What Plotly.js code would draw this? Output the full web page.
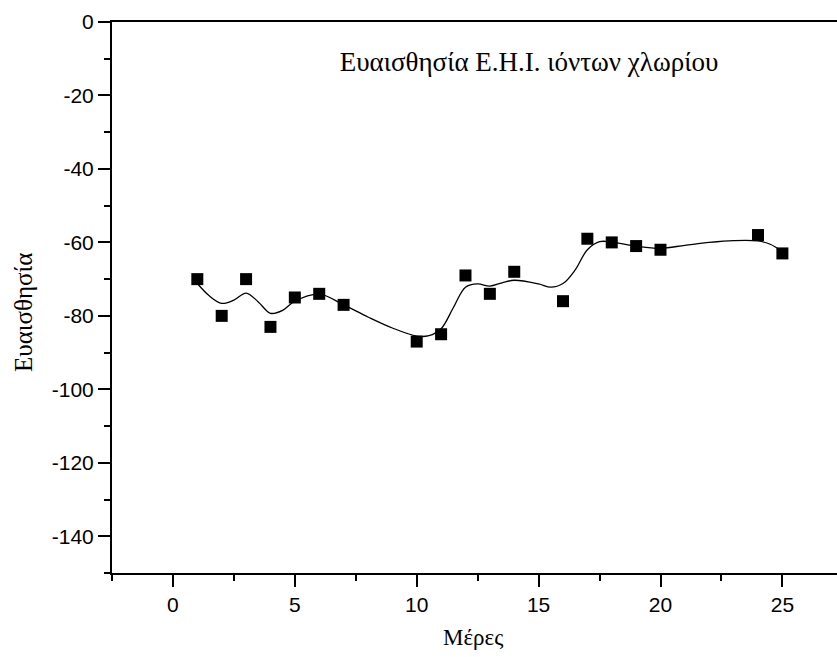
<!DOCTYPE html>
<html>
<head>
<meta charset="utf-8">
<script src="https://cdn.plot.ly/plotly-3.0.1.min.js"></script>
<style>html,body{margin:0;padding:0;background:#fff;}#chart{width:837px;height:657px;}</style>
</head>
<body>
<div id="chart"></div>
<script>
// Measured points
const days = [1, 2, 3, 4, 5, 6, 7, 10, 11, 12, 13, 14, 16, 17, 18, 19, 20, 24, 25];
const sensitivity = [-70, -80, -70, -83, -75, -74, -77, -87, -85, -69, -74, -68, -76, -59, -60, -61, -62, -58, -63];

// Smoothed curve, values
const curveX = [1, 1.5, 2, 2.5, 3, 3.5, 4, 4.5, 5, 6, 7, 8, 9, 10, 10.5, 11, 11.5, 12, 12.5, 13, 13.5, 14, 15, 15.5, 16, 16.5, 17, 17.5, 18, 19, 20, 21, 22, 23, 24, 24.5, 25];
const curveY = [-71.2, -74.6, -76.6, -75.7, -73.8, -76.2, -79.3, -78.5, -76.0, -74.1, -77.0, -80.3, -83.3, -85.5, -85.4, -83.5, -77.8, -72.2, -71.3, -71.9, -71.0, -70.3, -71.3, -72.2, -71.2, -67.5, -62.0, -59.8, -59.9, -61.0, -61.6, -60.8, -60.0, -59.5, -59.6, -60.5, -62.5];

const xTickVals = [0, 5, 10, 15, 20, 25];
const yTickVals = [-140, -120, -100, -80, -60, -40, -20, 0];

const titleText = "Ευαισθησία Ε.Η.Ι. ιόντων χλωρίου";
const xTitle = "Μέρες";
const yTitle = "Ευαισθησία";

const serif = "Liberation Serif, Times New Roman, serif";
const sans = "Liberation Sans, Arial, sans-serif";

const traces = [
  {
    x: curveX, y: curveY, type: 'scatter', mode: 'lines',
    line: {color: '#000', width: 1.3, shape: 'spline', smoothing: 1},
    hoverinfo: 'skip', showlegend: false
  },
  {
    x: days, y: sensitivity, type: 'scatter', mode: 'markers',
    marker: {symbol: 'square', size: 12, color: '#000', line: {width: 0}},
    showlegend: false
  }
];

const layout = {
  width: 837, height: 657,
  margin: {l: 112, r: 0, t: 22, b: 84},
  paper_bgcolor: '#fff', plot_bgcolor: '#fff',
  showlegend: false,
  title: {
    text: titleText, x: 529 / 837, xanchor: 'center', xref: 'container',
    y: 1 - 62 / 657, yanchor: 'middle', yref: 'container',
    font: {family: serif, size: 27, color: '#000'}
  },
  xaxis: {
    range: [-2.5, 27.24], showgrid: false, zeroline: false,
    showline: true, linecolor: '#000', linewidth: 2, mirror: true,
    tickmode: 'array', tickvals: xTickVals, ticktext: xTickVals.map(String),
    ticks: 'outside', ticklen: 12, tickwidth: 2, tickcolor: '#000',
    minor: {dtick: 2.5, tick0: 0, ticks: 'outside', ticklen: 6, tickwidth: 2, tickcolor: '#000', showgrid: false},
    tickfont: {family: sans, size: 21, color: '#000'},
    fixedrange: true
  },
  yaxis: {
    range: [-150, 0], showgrid: false, zeroline: false,
    showline: true, linecolor: '#000', linewidth: 2, mirror: false,
    tickmode: 'array', tickvals: yTickVals, ticktext: yTickVals.map(String),
    ticks: 'outside', ticklen: 12, tickwidth: 2, tickcolor: '#000',
    minor: {dtick: 10, tick0: 0, ticks: 'outside', ticklen: 6, tickwidth: 2, tickcolor: '#000', showgrid: false},
    tickfont: {family: sans, size: 21, color: '#000'},
    fixedrange: true
  },
  annotations: [
    {text: xTitle, xref: 'paper', yref: 'paper', x: (473 - 112) / 725, y: -(637 - 573) / 551,
     xanchor: 'center', yanchor: 'middle', showarrow: false,
     font: {family: serif, size: 23, color: '#000'}},
    {text: yTitle, xref: 'paper', yref: 'paper', x: -(112 - 23) / 725, y: (573 - 313) / 551,
     xanchor: 'center', yanchor: 'middle', showarrow: false, textangle: -90,
     font: {family: serif, size: 25, color: '#000'}}
  ]
};

Plotly.newPlot('chart', traces, layout, {displayModeBar: false, staticPlot: true});
</script>
</body>
</html>
